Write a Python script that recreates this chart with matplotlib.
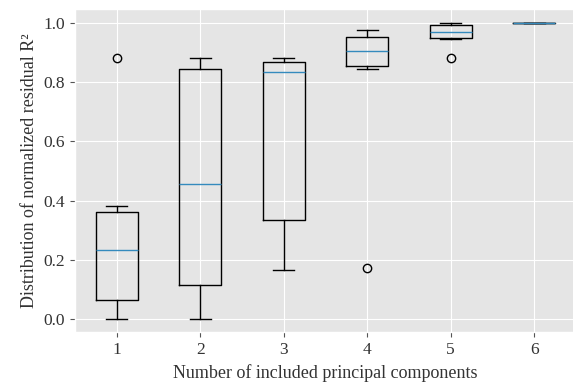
import matplotlib
matplotlib.use('Agg')
import matplotlib.pyplot as plt

plt.style.use('ggplot')
plt.rcParams['font.family'] = ['Liberation Serif', 'DejaVu Serif']

# box statistics, one entry per number of components
components = [1, 2, 3, 4, 5, 6]
whislo = [0.0, 0.0, 0.166, 0.845, 0.947, 1.0]
q1 = [0.065, 0.115, 0.335, 0.853, 0.949, 1.0]
med = [0.234, 0.455, 0.833, 0.905, 0.968, 1.0]
q3 = [0.362, 0.843, 0.868, 0.951, 0.991, 1.0]
whishi = [0.382, 0.881, 0.882, 0.977, 1.0, 1.0]
fliers = [[0.88], [], [], [0.171], [0.88], []]

stats = []
for i in range(len(components)):
    stats.append({'label': str(components[i]), 'whislo': whislo[i], 'q1': q1[i],
                  'med': med[i], 'q3': q3[i], 'whishi': whishi[i],
                  'fliers': fliers[i]})

fig = plt.figure(figsize=(5.73, 3.83), dpi=100)
ax = fig.add_axes([0.131, 0.132, 0.874, 0.844])
ax.bxp(stats, positions=components)
ax.set_xlim(0.5, 6.5)
ax.set_ylim(-0.045, 1.046)
ax.set_xlabel('Number of included principal components', fontsize=13, color='#333333')
ax.set_ylabel('Distribution of normalized residual R²', fontsize=13, color='#333333')
ax.tick_params(labelsize=12.5, labelcolor='#333333')

fig.savefig('out.png', dpi=100)
